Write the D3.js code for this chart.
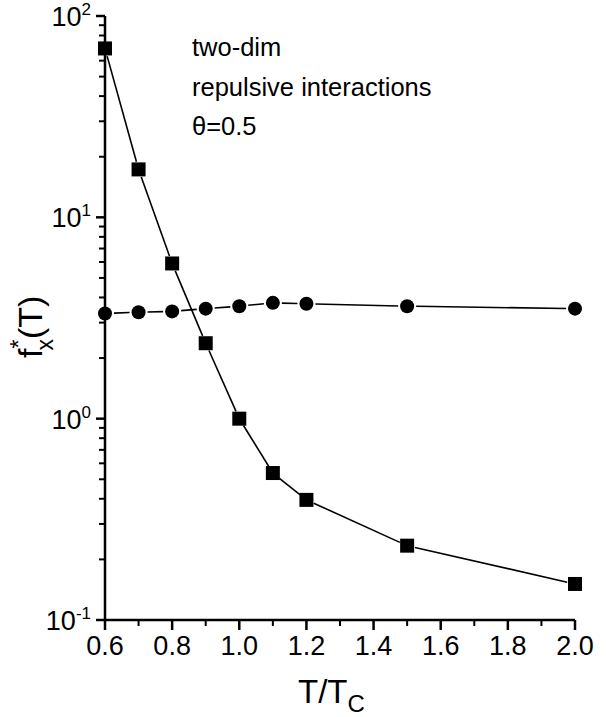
<!DOCTYPE html>
<html>
<head>
<meta charset="utf-8">
<script src="https://cdn.jsdelivr.net/npm/d3@7"></script>
<style>
  html, body { margin: 0; padding: 0; background: #fff; }
  svg { display: block; font-family: "Liberation Sans", Arial, Helvetica, sans-serif; }
</style>
</head>
<body>
<svg id="chart" width="606" height="717"></svg>
<script>
// values (log y axis)
var temps = [0.6, 0.7, 0.8, 0.9, 1.0, 1.1, 1.2, 1.5, 2.0];
var squares = [69, 17.3, 5.9, 2.37, 1.0, 0.537, 0.395, 0.234, 0.151];
var circles = [3.33, 3.38, 3.41, 3.52, 3.62, 3.76, 3.72, 3.62, 3.52];
var xTicks = [0.6, 0.8, 1.0, 1.2, 1.4, 1.6, 1.8, 2.0];
var xMinor = [0.7, 0.9, 1.1, 1.3, 1.5, 1.7, 1.9];
var yDecades = [-1, 0, 1, 2];
var notes = ["two-dim", "repulsive interactions", "\u03b8=0.5"];

(function () {
  "use strict";
  var svg = d3.select("#chart");
  var x = d3.scaleLinear().domain([0.6, 2.0]).range([105, 575]);
  var y = d3.scaleLog().domain([0.1, 100]).range([620, 16]);
  var AX = 2.5;

  // y axis: line, major + minor ticks (outward), labels 10^n
  var yMinor = [];
  yDecades.slice(0, -1).forEach(function (e) {
    for (var k = 2; k <= 9; k++) yMinor.push(k * Math.pow(10, e));
  });
  svg.append("line").attr("x1", x(0.6)).attr("x2", x(0.6)).attr("y1", y(100)).attr("y2", y(0.1))
    .attr("stroke", "#000").attr("stroke-width", AX);
  yMinor.forEach(function (v) {
    svg.append("line").attr("x1", x(0.6) - 6).attr("x2", x(0.6)).attr("y1", y(v)).attr("y2", y(v))
      .attr("stroke", "#000").attr("stroke-width", 2);
  });
  yDecades.forEach(function (e) {
    var yy = y(Math.pow(10, e));
    var t = svg.append("text").attr("x", 91).attr("y", yy + 10).attr("text-anchor", "end")
      .attr("font-size", 27).attr("fill", "#000");
    t.append("tspan").text("10");
    t.append("tspan").attr("dy", -11).attr("font-size", 17).text(String(e));
    svg.append("line").attr("x1", x(0.6) - 9).attr("x2", x(0.6)).attr("y1", yy).attr("y2", yy)
      .attr("stroke", "#000").attr("stroke-width", AX);
  });

  // x axis
  svg.append("line").attr("x1", x(0.6) - AX / 2).attr("x2", x(2.0)).attr("y1", y(0.1)).attr("y2", y(0.1))
    .attr("stroke", "#000").attr("stroke-width", AX);
  xMinor.forEach(function (v) {
    svg.append("line").attr("x1", x(v)).attr("x2", x(v)).attr("y1", y(0.1)).attr("y2", y(0.1) + 6)
      .attr("stroke", "#000").attr("stroke-width", 2);
  });
  xTicks.forEach(function (v) {
    svg.append("line").attr("x1", x(v)).attr("x2", x(v)).attr("y1", y(0.1)).attr("y2", y(0.1) + 10)
      .attr("stroke", "#000").attr("stroke-width", AX);
    svg.append("text").attr("x", x(v)).attr("y", 655).attr("text-anchor", "middle")
      .attr("font-size", 27).attr("fill", "#000").text(v.toFixed(1));
  });

  // axis titles
  var xt = svg.append("text").attr("x", 298).attr("y", 703).attr("font-size", 33).attr("fill", "#000");
  xt.append("tspan").text("T/T");
  xt.append("tspan").attr("dy", 9).attr("font-size", 24).text("C");

  var yt = svg.append("text").attr("transform", "translate(42,358) rotate(-90)")
    .attr("font-size", 34).attr("fill", "#000");
  yt.append("tspan").text("f");
  yt.append("tspan").attr("dy", -15).attr("font-size", 23).text("*");
  yt.append("tspan").attr("dx", -11).attr("dy", 26).attr("font-size", 23).text("x");
  yt.append("tspan").attr("dy", -11).text("(T)");

  // connecting lines, trimmed short of each marker
  function segs(vals, gap) {
    var g = svg.append("g");
    for (var i = 0; i < vals.length - 1; i++) {
      var x1 = x(temps[i]), y1 = y(vals[i]), x2 = x(temps[i + 1]), y2 = y(vals[i + 1]);
      var dx = x2 - x1, dy = y2 - y1, L = Math.sqrt(dx * dx + dy * dy);
      if (L <= 2 * gap) continue;
      var ux = dx / L, uy = dy / L;
      g.append("line").attr("x1", x1 + ux * gap).attr("y1", y1 + uy * gap)
        .attr("x2", x2 - ux * gap).attr("y2", y2 - uy * gap)
        .attr("stroke", "#000").attr("stroke-width", 1.6);
    }
  }
  segs(squares, 8);
  segs(circles, 9);

  svg.append("g").selectAll("rect").data(squares).join("rect")
    .attr("x", function (d, i) { return x(temps[i]) - 7; })
    .attr("y", function (d) { return y(d) - 7; })
    .attr("width", 14).attr("height", 14).attr("fill", "#000");
  svg.append("g").selectAll("circle").data(circles).join("circle")
    .attr("cx", function (d, i) { return x(temps[i]); })
    .attr("cy", function (d) { return y(d); })
    .attr("r", 7).attr("fill", "#000");

  // annotations
  notes.forEach(function (s, i) {
    svg.append("text").attr("x", 192).attr("y", 56 + i * 39.5).attr("font-size", 25.5)
      .attr("fill", "#000").text(s);
  });
})();
</script>
</body>
</html>
